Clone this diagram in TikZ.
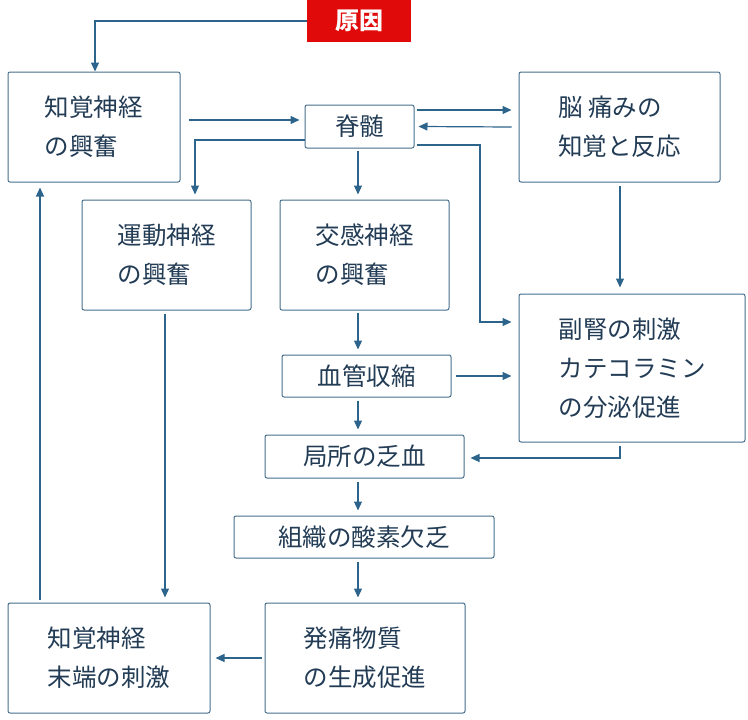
\documentclass[tikz,border=0pt]{standalone}
\usepackage{fontspec}
\setmainfont{Noto Sans CJK JP}
\usetikzlibrary{arrows.meta,calc}
\definecolor{ln}{RGB}{45,100,140}
\definecolor{bd}{RGB}{70,110,140}
\definecolor{tx}{RGB}{35,60,85}
\begin{document}
\begin{tikzpicture}[x=1pt,y=-1pt,
 box/.style={draw=bd,line width=1pt,rounded corners=2pt,fill=white,text=tx,align=left,font=\fontsize{24.5}{39}\selectfont,inner sep=0pt},
 ar/.style={draw=ln,line width=1.2pt,-{Triangle[length=9pt,width=8pt]}}]
\useasboundingbox (0,0) rectangle (748,720);
\node[fill={rgb,255:red,225;green,10;blue,10},text=white,font=\fontsize{24}{28}\selectfont\bfseries,minimum width=104pt,minimum height=42pt,inner sep=0pt] (gen) at (359,21) {原因};
\node[box,minimum width=172pt,minimum height=110pt] (chi) at (94,127) {知覚神経\\の興奮};
\node[box,minimum width=109pt,minimum height=43pt] (sek) at (359.5,126.5) {脊髄};
\node[box,minimum width=201pt,minimum height=110pt] (nou) at (619.5,127) {脳 痛みの\\知覚と反応};
\node[box,minimum width=169pt,minimum height=110pt] (und) at (166.5,255) {運動神経\\の興奮};
\node[box,minimum width=169pt,minimum height=110pt] (kou) at (364.5,255) {交感神経\\の興奮};
\node[box,minimum width=226pt,minimum height=148pt] (fuk) at (632,368) {副腎の刺激\\カテコラミン\\の分泌促進};
\node[box,minimum width=169pt,minimum height=42pt] (kek) at (366.5,376) {血管収縮};
\node[box,minimum width=199pt,minimum height=43pt] (kyo) at (364.5,456.5) {局所の乏血};
\node[box,minimum width=260pt,minimum height=42pt] (sos) at (364,537) {組織の酸素欠乏};
\node[box,minimum width=202pt,minimum height=110pt] (mat) at (109,658) {知覚神経\\末端の刺激};
\node[box,minimum width=200pt,minimum height=110pt] (hat) at (365,658) {発痛物質\\の生成促進};
\coordinate (c1) at (95,21);
\draw[ar] (gen.west) -- (c1) -- (chi.north -| c1);
\draw[ar] ($(chi.east)+(8,-7)$) -- ($(sek.west)+(-5,-6.5)$);
\draw[ar] ($(sek.east)+(2,-16.5)$) -- ($(nou.west)+(-7,-17)$);
\draw[ar] ($(nou.west)+(-7,0)$) -- ($(sek.east)+(4,0)$);
\coordinate (c2) at (195,140);
\draw[ar] (sek.west |- c2) -- (c2) -- ($(und.north -| c2)+(0,-5)$);
\draw[ar] ($(sek.south)+(-1.5,2)$) -- ($(kou.north -| sek.south)+(-1.5,-5)$);
\coordinate (c3) at (480,145);
\draw[ar] ($(sek.east |- c3)+(2,0)$) -- (c3) -- (480,322) -- ($(fuk.west |- 0,322)+(-7,0)$);
\coordinate (c4) at (620,0);
\draw[ar] ($(nou.south -| c4)+(0,3)$) -- ($(fuk.north -| c4)+(0,-6)$);
\draw[ar] (358,313) -- ($(kek.north -| 358,0)+(0,-5)$);
\draw[ar] ($(kek.east)+(4,0)$) -- ($(fuk.west |- kek.east)+(-7,0)$);
\draw[ar] ($(kek.south -| 358,0)+(0,3)$) -- ($(kyo.north -| 358,0)+(0,-5)$);
\draw[ar] ($(fuk.south -| c4)+(0,3)$) -- (620,458) -- ($(kyo.east)+(6,1.5)$);
\draw[ar] ($(kyo.south -| 358,0)+(0,3)$) -- ($(sos.north -| 358,0)+(0,-5)$);
\draw[ar] ($(sos.south -| 358,0)+(0,3)$) -- ($(hat.north -| 358,0)+(0,-5)$);
\draw[ar] ($(und.south -| 165,0)+(0,3)$) -- ($(mat.north -| 165,0)+(0,-5)$);
\draw[ar] ($(hat.west)+(-3,0)$) -- ($(mat.east)+(5,0)$);
\draw[ar] ($(mat.north -| 40,0)+(0,-3)$) -- ($(chi.south -| 40,0)+(0,5)$);
\end{tikzpicture}
\end{document}
